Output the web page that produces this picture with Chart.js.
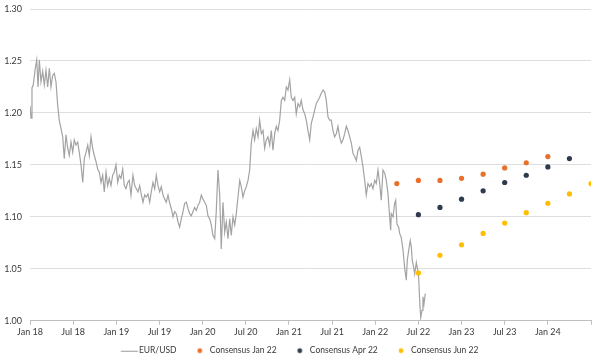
<!DOCTYPE html>
<html><head><meta charset="utf-8">
<script src="https://cdn.jsdelivr.net/npm/chart.js@4.4.1/dist/chart.umd.min.js"></script>
<style>html,body{margin:0;padding:0;background:#fff}#wrap{width:600px;height:362px;position:relative}</style>
</head><body><div id="wrap"><canvas id="c" width="600" height="362"></canvas></div>
<script>
// x values are years elapsed since Jan 2018
const eurT = [0.000,0.012,0.023,0.038,0.061,0.078,0.093,0.108,0.127,0.147,0.166,0.185,0.205,0.224,0.243,0.263,0.282,0.301,0.321,0.339,0.359,0.379,0.397,0.417,0.437,0.455,0.475,0.495,0.513,0.533,0.553,0.571,0.591,0.611,0.629,0.649,0.669,0.687,0.707,0.726,0.745,0.765,0.784,0.803,0.823,0.842,0.861,0.881,0.900,0.919,0.938,0.958,0.977,0.996,1.016,1.035,1.054,1.074,1.093,1.112,1.132,1.150,1.170,1.193,1.213,1.232,1.251,1.271,1.290,1.309,1.329,1.347,1.367,1.387,1.405,1.425,1.445,1.463,1.483,1.503,1.521,1.541,1.561,1.579,1.599,1.619,1.637,1.657,1.676,1.695,1.715,1.734,1.753,1.773,1.792,1.811,1.831,1.850,1.869,1.889,1.908,1.927,1.946,1.966,1.985,2.004,2.024,2.043,2.062,2.082,2.101,2.120,2.140,2.158,2.178,2.198,2.216,2.236,2.256,2.274,2.294,2.314,2.332,2.352,2.372,2.390,2.410,2.430,2.448,2.468,2.487,2.506,2.526,2.545,2.564,2.584,2.603,2.622,2.642,2.661,2.680,2.700,2.719,2.738,2.757,2.777,2.796,2.815,2.835,2.854,2.873,2.893,2.912,2.931,2.951,2.970,2.989,3.009,3.027,3.047,3.067,3.085,3.105,3.125,3.143,3.163,3.183,3.201,3.221,3.241,3.259,3.279,3.299,3.317,3.337,3.356,3.375,3.395,3.414,3.433,3.453,3.472,3.491,3.510,3.530,3.549,3.568,3.588,3.607,3.626,3.646,3.665,3.684,3.704,3.723,3.742,3.762,3.781,3.800,3.820,3.839,3.858,3.878,3.896,3.916,3.936,3.954,3.974,3.994,4.012,4.032,4.052,4.070,4.090,4.110,4.128,4.148,4.167,4.179,4.186,4.206,4.225,4.237,4.252,4.272,4.283,4.302,4.322,4.341,4.360,4.371,4.388,4.406,4.418,4.429,4.446,4.457,4.476,4.487,4.503,4.515,4.527,4.542,4.553,4.565,4.580];
const eurUsd = [1.207,1.195,1.224,1.227,1.243,1.251,1.225,1.251,1.230,1.240,1.227,1.241,1.225,1.243,1.225,1.236,1.238,1.230,1.207,1.193,1.185,1.177,1.156,1.179,1.166,1.159,1.172,1.162,1.174,1.169,1.172,1.162,1.150,1.133,1.156,1.162,1.169,1.159,1.177,1.166,1.159,1.153,1.146,1.143,1.133,1.140,1.124,1.143,1.130,1.137,1.130,1.140,1.143,1.150,1.133,1.140,1.137,1.146,1.130,1.127,1.133,1.135,1.121,1.140,1.130,1.127,1.124,1.130,1.121,1.114,1.121,1.119,1.122,1.114,1.124,1.133,1.127,1.140,1.130,1.124,1.129,1.121,1.117,1.114,1.121,1.113,1.108,1.100,1.105,1.103,1.095,1.090,1.098,1.105,1.113,1.114,1.108,1.103,1.101,1.105,1.109,1.106,1.111,1.114,1.121,1.117,1.114,1.111,1.101,1.098,1.092,1.082,1.079,1.105,1.145,1.121,1.069,1.114,1.085,1.095,1.079,1.098,1.082,1.100,1.092,1.103,1.119,1.135,1.129,1.119,1.125,1.129,1.135,1.145,1.171,1.183,1.174,1.185,1.177,1.193,1.180,1.183,1.166,1.174,1.177,1.169,1.183,1.164,1.180,1.187,1.183,1.193,1.212,1.215,1.212,1.225,1.222,1.232,1.215,1.212,1.215,1.199,1.209,1.206,1.212,1.203,1.199,1.193,1.183,1.174,1.190,1.196,1.203,1.209,1.212,1.215,1.219,1.222,1.220,1.212,1.196,1.193,1.193,1.183,1.177,1.180,1.187,1.177,1.171,1.174,1.180,1.187,1.183,1.177,1.171,1.161,1.158,1.154,1.164,1.167,1.158,1.148,1.135,1.121,1.132,1.129,1.132,1.127,1.135,1.132,1.145,1.132,1.116,1.145,1.142,1.135,1.122,1.100,1.087,1.103,1.100,1.113,1.116,1.093,1.090,1.084,1.080,1.068,1.051,1.039,1.058,1.068,1.077,1.071,1.058,1.051,1.045,1.056,1.051,1.042,1.019,1.003,1.010,1.023,1.016,1.026];

const consJan22T = [4.25,4.5,4.75,5.0,5.25,5.5,5.75,6.0];
const consJan22 = [1.132,1.135,1.135,1.137,1.141,1.147,1.152,1.158];
const consApr22T = [4.5,4.75,5.0,5.25,5.5,5.75,6.0,6.25];
const consApr22 = [1.102,1.109,1.117,1.125,1.133,1.140,1.148,1.156];
const consJun22T = [4.5,4.75,5.0,5.25,5.5,5.75,6.0,6.25,6.5];
const consJun22 = [1.046,1.063,1.073,1.084,1.094,1.104,1.113,1.122,1.132];

const xTickLabels = ['Jan 18','Jul 18','Jan 19','Jul 19','Jan 20','Jul 20','Jan 21','Jul 21','Jan 22','Jul 22','Jan 23','Jul 23','Jan 24',''];
const yTickMin = 1.00, yTickMax = 1.30, yTickStep = 0.05;

const toXY = (xs, ys) => xs.map((x, i) => ({x, y: ys[i]}));
const FONT = 'Lato';
const TXT = '#3a3a3a';

// legend swatches: drawn centred in a 22px legend box, so the marks are shifted right inside a 40px image
function swatch(draw){const c=document.createElement('canvas');c.width=40;c.height=8;draw(c.getContext('2d'));return c;}
const lineSwatch = swatch(g=>{g.strokeStyle='#9a9a9a';g.lineWidth=1;g.beginPath();g.moveTo(17.25,4.5);g.lineTo(34.25,4.5);g.stroke();});
const dotSwatch = col => swatch(g=>{g.fillStyle=col;g.beginPath();g.arc(25.25,4,2.4,0,Math.PI*2);g.fill();});

const colJan='#e8702a', colApr='#2e3a4d', colJun='#ffbf00';

new Chart(document.getElementById('c'), {
  data: {
    datasets: [
      {type:'line', label:'EUR/USD', data: toXY(eurT, eurUsd), borderColor:'#a3a3a3', borderWidth:1.2, pointRadius:0, tension:0, order:2, pointStyle: lineSwatch},
      {type:'scatter', label:'Consensus Jan 22', data: toXY(consJan22T, consJan22), backgroundColor:colJan, borderWidth:0, pointRadius:2.6, order:1, pointStyle:'circle'},
      {type:'scatter', label:'Consensus Apr 22', data: toXY(consApr22T, consApr22), backgroundColor:colApr, borderWidth:0, pointRadius:2.6, order:1, pointStyle:'circle'},
      {type:'scatter', label:'Consensus Jun 22', data: toXY(consJun22T, consJun22), backgroundColor:colJun, borderWidth:0, pointRadius:2.6, order:1, pointStyle:'circle'}
    ]
  },
  options: {
    responsive:false, animation:false, devicePixelRatio:1,
    layout:{padding:{top:0,right:9,left:0,bottom:-3}},
    plugins:{
      tooltip:{enabled:false},
      legend:{position:'bottom', labels:{usePointStyle:true, boxHeight:8, pointStyleWidth:22, padding:7, color:TXT, font:{family:FONT,size:8.5},
        sort:(a,b)=>a.datasetIndex-b.datasetIndex,
        generateLabels:(chart)=>{
          const items = Chart.defaults.plugins.legend.labels.generateLabels(chart);
          const sw = [lineSwatch, dotSwatch(colJan), dotSwatch(colApr), dotSwatch(colJun)];
          items.forEach(it=>{it.pointStyle = sw[it.datasetIndex]; it.lineWidth=0;});
          return items;
        }}}
    },
    scales:{
      x:{type:'linear', min:0, max:6.5,
        ticks:{stepSize:0.5, autoSkip:false, maxRotation:0, padding:2, color:TXT, font:{family:FONT,size:9},
          callback:(v)=>{const i=Math.round(v*2);return xTickLabels[i] ?? '';}},
        grid:{drawOnChartArea:false, drawTicks:true, tickLength:4, color:'#bfbfbf'},
        border:{display:true, color:'#bfbfbf'}},
      y:{min:yTickMin, max:yTickMax,
        ticks:{stepSize:yTickStep, padding:8, color:TXT, font:{family:FONT,size:9}, callback:(v)=>v.toFixed(2)},
        grid:{color:'#dedede', drawTicks:false},
        border:{display:false},
        afterFit:(s)=>{s.width=30; s.paddingTop=9;}}
    }
  }
});
</script></body></html>
